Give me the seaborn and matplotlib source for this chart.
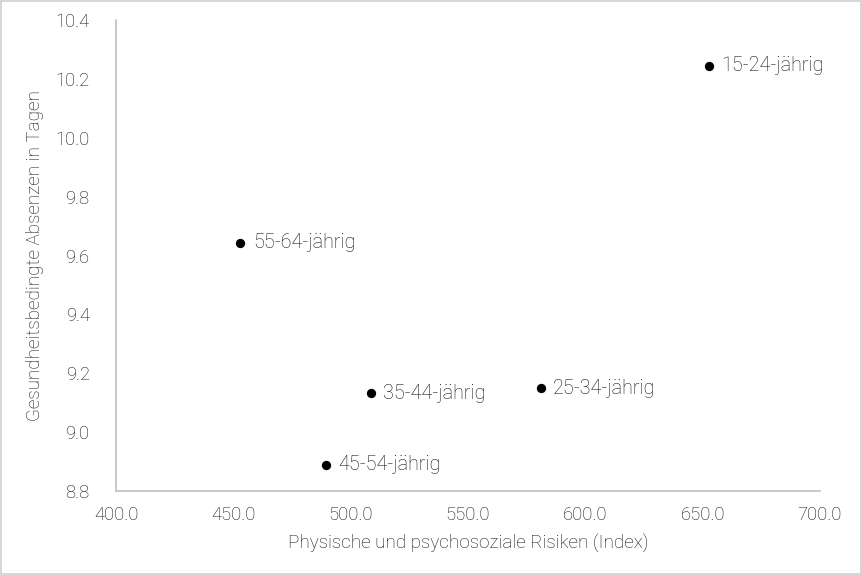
import matplotlib
matplotlib.use("Agg")
import matplotlib.pyplot as plt
import seaborn as sns
import pandas as pd

# Data
groups = ["15-24-jährig", "25-34-jährig", "35-44-jährig", "45-54-jährig", "55-64-jährig"]
risiken = [652.5, 581.0, 508.5, 489.5, 453.0]
absenzen = [10.245, 9.15, 9.133, 8.89, 9.643]

df = pd.DataFrame({"Gruppe": groups, "Risiken": risiken, "Absenzen": absenzen})

sns.set_theme(style="white")
plt.rcParams["font.family"] = ["Roboto", "DejaVu Sans"]
plt.rcParams["font.weight"] = "light"
text_col = "#111111"

fig = plt.figure(figsize=(8.62, 5.75), dpi=100)
ax = fig.add_axes([0.1346, 0.146, 0.8167, 0.819])

sns.scatterplot(data=df, x="Risiken", y="Absenzen", color="black", s=45,
                edgecolor="black", linewidth=0, ax=ax, zorder=3)

for _, row in df.iterrows():
    ax.annotate(row["Gruppe"], (row["Risiken"], row["Absenzen"]),
                xytext=(9, 0), textcoords="offset points", va="center", ha="left",
                fontsize=14.2, color=text_col, fontweight="light")

ax.set_xlim(400, 700)
ax.set_ylim(8.8, 10.4)
ax.set_xticks([400, 450, 500, 550, 600, 650, 700])
ax.set_xticklabels([f"{v:.1f}" for v in ax.get_xticks()])
ax.set_yticks([8.8, 9.0, 9.2, 9.4, 9.6, 9.8, 10.0, 10.2, 10.4])
ax.set_yticklabels([f"{v:.1f}" for v in ax.get_yticks()])
ax.tick_params(axis="x", length=0, labelsize=13.2, labelcolor=text_col, pad=11)
ax.tick_params(axis="y", length=0, labelsize=13.2, labelcolor=text_col, pad=19)
for lbl in ax.get_xticklabels() + ax.get_yticklabels():
    lbl.set_fontweight("light")

ax.set_xlabel("Physische und psychosoziale Risiken (Index)", fontsize=13.6,
              color=text_col, fontweight="light", labelpad=7)
ax.set_ylabel("Gesundheitsbedingte Absenzen in Tagen", fontsize=13.6,
              color=text_col, fontweight="light", labelpad=8)

sns.despine(ax=ax)
for side in ["left", "bottom"]:
    ax.spines[side].set_color("#bfbfbf")
    ax.spines[side].set_linewidth(1.2)

# light frame around the whole figure
fig.patches.append(plt.Rectangle((0.001, 0.001), 0.998, 0.998, transform=fig.transFigure,
                                 fill=False, edgecolor="#d0d0d0", linewidth=1.2))

fig.savefig("out.png", dpi=100)
